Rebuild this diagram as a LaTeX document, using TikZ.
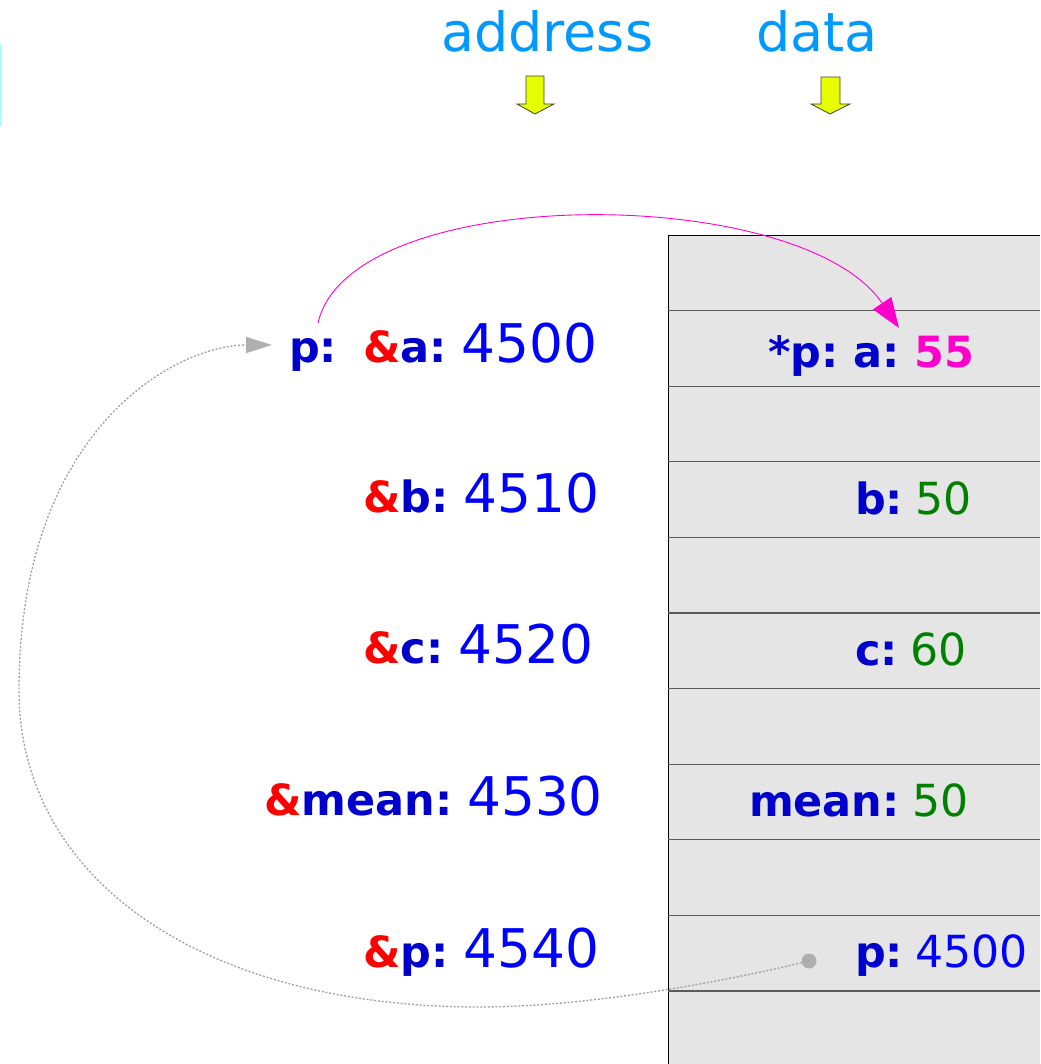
\documentclass[tikz,border=0pt]{standalone}
\usepackage{fontspec}
\setmainfont{DejaVu Sans}
\usetikzlibrary{arrows.meta}
\frenchspacing

\definecolor{hdrblue}{RGB}{0,153,255}
\definecolor{lblblue}{RGB}{0,0,204}
\definecolor{numblue}{RGB}{0,0,255}
\definecolor{ampred}{RGB}{255,0,0}
\definecolor{valgreen}{RGB}{0,128,0}
\definecolor{ptrpink}{RGB}{255,0,204}
\definecolor{cellgray}{RGB}{229,229,229}
\definecolor{rulegray}{RGB}{90,90,90}
\definecolor{linkgray}{RGB}{160,160,160}
\definecolor{dotgray}{RGB}{175,175,175}
\definecolor{markyellow}{RGB}{230,255,0}
\definecolor{edgecyan}{RGB}{170,255,255}

\newcommand{\amp}{{\color{ampred}\&}}
\newcommand{\addrnum}[1]{{\mdseries\fontsize{53.3}{60}\selectfont\color{numblue}#1}}
\newcommand{\cellnum}[2]{{\mdseries\fontsize{44.2}{50}\selectfont\color{#1}#2}}

\begin{document}
\begin{tikzpicture}[x=1pt,y=-1pt,
  txt/.style={inner sep=0pt, outer sep=0pt, anchor=base west},
  header/.style={txt, font=\fontsize{54}{60}\selectfont, text=hdrblue},
  addrlbl/.style={txt, font=\fontsize{43}{50}\selectfont\bfseries, text=lblblue},
  celllbl/.style={txt, font=\fontsize{43}{50}\selectfont\bfseries, text=lblblue},
  marker/.style={fill=markyellow, draw=black!75, line width=0.8pt, line join=miter},
  cellrule/.style={draw=rulegray, line width=1.2pt},
  pointsto/.style={ptrpink, line width=0.9pt, -{Triangle[length=30pt,width=22pt]}},
  holds/.style={linkgray, line width=1.3pt, dash pattern=on 2pt off 1.8pt,
                -{Triangle[length=26pt,width=16pt,color=dotgray]}}
]
\useasboundingbox (0,0) rectangle (1040,1064);

% thin cyan strip on the left edge
\fill[edgecyan] (0,44) rectangle (2,126);

% column headers
\node[header] (hdrAddr) at (441,52) {address};
\node[header] (hdrData) at (756,52) {data};

% down markers under the headers
\draw[marker] (526,76) -- (544,76) -- (544,104) -- (554,104) -- (535,114)
  -- (517,104) -- (526,104) -- cycle;
\draw[marker] (821,77) -- (840,77) -- (840,104) -- (850,104) -- (830,114)
  -- (811,104) -- (821,104) -- cycle;

% memory column
\fill[cellgray] (668,235) rectangle (1040,1064);
\draw[black, line width=0.9pt] (1040,235) -- (668,235) -- (668,1064);
\foreach \k in {1,...,10}
  \draw[cellrule] (668,{235+75.6*\k}) -- (1040,{235+75.6*\k});

% addresses
\node[addrlbl] (pptr) at (289,362) {p:};
\node[addrlbl] (addrA) at (363,362) {\amp a:\hspace{15pt}\addrnum{4500}};
\node[addrlbl] (addrB) at (363,512) {\amp b:\hspace{15pt}\addrnum{4510}};
\node[addrlbl] (addrC) at (363,663) {\amp c:\hspace{15pt}\addrnum{4520}};
\node[addrlbl] (addrMean) at (264,815) {\amp mean:\hspace{15pt}\addrnum{4530}};
\node[addrlbl] (addrP) at (363,967) {\amp p:\hspace{15pt}\addrnum{4540}};

% cell contents
\node[celllbl] (memA) at (768,367) {*p: a: {\color{ptrpink}55}};
\node[celllbl] (memB) at (855,514) {b:\hspace{12.5pt}\cellnum{valgreen}{50}};
\node[celllbl] (memC) at (855,665) {c:\hspace{12.5pt}\cellnum{valgreen}{60}};
\node[celllbl] (memMean) at (749,816) {mean:\hspace{12.5pt}\cellnum{valgreen}{50}};
\node[celllbl] (memP) at (855,967) {p:\hspace{12.5pt}\cellnum{numblue}{4500}};

% pointer dereference: p -> a
\coordinate (derefStart) at (318,323);
\coordinate (derefEnd) at (899,328);
\draw[pointsto] (derefStart) .. controls (350,182) and (800,182) .. (derefEnd);

% value stored in p refers back to the address label
\node[circle, fill=dotgray, minimum size=15pt, inner sep=0pt] (ptrDot) at (809,961) {};
\coordinate (ptrTip) at (272,345);
\draw[holds] (ptrDot.center) .. controls (710,985) and (580,1007) .. (480,1007)
  .. controls (203,1007) and (19,880) .. (19,690)
  .. controls (19,430) and (175,345) .. (ptrTip);
\end{tikzpicture}
\end{document}
